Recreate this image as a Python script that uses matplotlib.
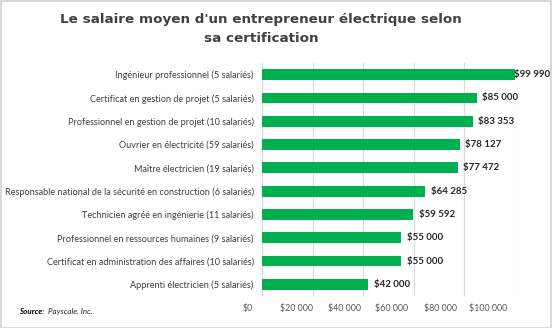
import matplotlib
matplotlib.use("Agg")
import matplotlib.pyplot as plt
from matplotlib.patches import Rectangle

categories = [
    "Ingénieur professionnel (5 salariés)",
    "Certificat en gestion de projet (5 salariés)",
    "Professionnel en gestion de projet (10 salariés)",
    "Ouvrier en électricité (59 salariés)",
    "Maître électricien (19 salariés)",
    "Responsable national de la sécurité en construction (6 salariés)",
    "Technicien agréé en ingénierie (11 salariés)",
    "Professionnel en ressources humaines (9 salariés)",
    "Certificat en administration des affaires (10 salariés)",
    "Apprenti électricien (5 salariés)",
]
values = [99990, 85000, 83353, 78127, 77472, 64285, 59592, 55000, 55000, 42000]
value_labels = ["$99 990", "$85 000", "$83 353", "$78 127", "$77 472",
                "$64 285", "$59 592", "$55 000", "$55 000", "$42 000"]
xticks = [0, 20000, 40000, 60000, 80000, 100000]
xtick_labels = ["$0", "$20 000", "$40 000", "$60 000", "$80 000", "$100 000"]

W, H = 552, 328
fig = plt.figure(figsize=(W / 100, H / 100), dpi=100)
fig.patch.set_facecolor("white")
ax = fig.add_axes([262 / W, 1 - 296 / H, (515 - 262) / W, (296 - 63) / H])

y = list(range(len(categories)))
ax.barh(y, values, height=0.46, color="#00B050", zorder=3)
ax.set_ylim(len(categories) - 0.5, -0.5)
ax.set_xlim(0, 100000)
ax.set_yticks(y)
ax.set_yticklabels(categories, fontsize=6.6, color="#404040", family="Lato")
ax.set_xticks(xticks)
ax.set_xticklabels([])
ax.tick_params(axis="both", length=0, pad=6)
ax.grid(axis="x", color="#D9D9D9", linewidth=0.8, zorder=0)
for s in ax.spines.values():
    s.set_visible(False)

# tick labels row (slightly compressed in the reference)
axl = fig.add_axes([248 / W, 1 - 296 / H, (488 - 248) / W, 0.001])
axl.set_xlim(0, 100000)
axl.set_xticks(xticks)
axl.set_xticklabels(xtick_labels, fontsize=6.4, color="#595959", family="Lato")
axl.tick_params(axis="x", length=0, pad=6)
axl.set_yticks([])
axl.patch.set_visible(False)
for s in axl.spines.values():
    s.set_visible(False)

offsets_px = [-1, 5, 5, 5, 5, 6, 6, 6, 6, 6]
for yi, v, lab, off in zip(y, values, value_labels, offsets_px):
    ax.annotate(lab, (v, yi), xytext=(off * 0.72, 0), textcoords="offset points",
                va="center", ha="left", fontsize=7, fontweight="bold",
                color="#262626", family="Lato", zorder=4)

fig.text(261 / W, 1 - 19 / H, "Le salaire moyen d'un entrepreneur électrique selon",
         ha="center", va="center", fontsize=9.7, fontweight="bold", color="#404040")
fig.text(261 / W, 1 - 39 / H, "sa certification",
         ha="center", va="center", fontsize=9.7, fontweight="bold", color="#404040")

fig.text(19 / W, 1 - 311 / H, "Source:", ha="left", va="center", fontsize=5.8,
         fontweight="bold", style="italic", color="#000000", family="Lato")
fig.text(48 / W, 1 - 311 / H, "Payscale, Inc.", ha="left", va="center", fontsize=5.8,
         style="italic", color="#262626", family="Lato")

fig.patches.append(Rectangle((0.5 / W, 0.5 / H), 1 - 1.5 / W, 1 - 1.5 / H,
                             transform=fig.transFigure, fill=False,
                             edgecolor="#D9D9D9", linewidth=1.5))

fig.savefig("out.png", dpi=100)
